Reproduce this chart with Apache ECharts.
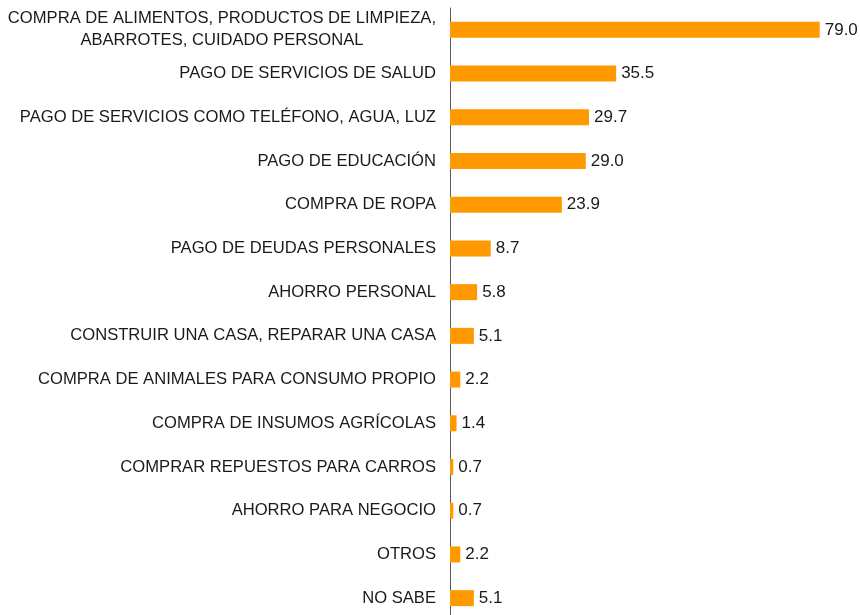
<!DOCTYPE html>
<html>
<head>
<meta charset="utf-8">
<script src="https://cdn.jsdelivr.net/npm/echarts@6/dist/echarts.min.js"></script>
<style>
    html, body { margin: 0; padding: 0; background: #fff; }
    #chart { width: 860px; height: 615px; }
</style>
</head>
<body>
<div id="chart"></div>
<script>
// categorías de uso del dinero (de arriba hacia abajo)
let categories = [
    'COMPRA DE ALIMENTOS, PRODUCTOS DE LIMPIEZA,\nABARROTES, CUIDADO PERSONAL',
    'PAGO DE SERVICIOS DE SALUD',
    'PAGO DE SERVICIOS COMO TELÉFONO, AGUA, LUZ',
    'PAGO DE EDUCACIÓN',
    'COMPRA DE ROPA',
    'PAGO DE DEUDAS PERSONALES',
    'AHORRO PERSONAL',
    'CONSTRUIR UNA CASA, REPARAR UNA CASA',
    'COMPRA DE ANIMALES PARA CONSUMO PROPIO',
    'COMPRA DE INSUMOS AGRÍCOLAS',
    'COMPRAR REPUESTOS PARA CARROS',
    'AHORRO PARA NEGOCIO',
    'OTROS',
    'NO SABE'
];
let values = [79.0, 35.5, 29.7, 29.0, 23.9, 8.7, 5.8, 5.1, 2.2, 1.4, 0.7, 0.7, 2.2, 5.1];

let barColor = '#FF9900';
let axisLineColor = '#595959';
let fontFamily = 'Arial, "Liberation Sans", sans-serif';

let myChart = echarts.init(document.getElementById('chart'));

let option = {
    animation: false,
    grid: {
        left: 450,
        top: 8,
        width: 468,
        height: 612,
        outerBoundsMode: 'none' // no encoger la rejilla por las etiquetas
    },
    xAxis: {
        type: 'value',
        min: 0,
        max: 100,
        show: false
    },
    yAxis: {
        type: 'category',
        inverse: true,
        data: categories,
        axisTick: { show: false },
        axisLine: {
            lineStyle: { color: axisLineColor, width: 1 }
        },
        axisLabel: {
            margin: 14,
            color: '#1a1a1a',
            fontSize: 16.6,
            fontFamily: fontFamily,
            align: 'right',
            lineHeight: 22,
            // etiquetas de dos líneas centradas entre sí
            formatter: (value) => {
                if (value.indexOf('\n') < 0) {
                    return value;
                }
                return value.split('\n').map((line) => '{c|' + line + '}').join('\n');
            },
            rich: {
                c: {
                    align: 'center',
                    fontSize: 16.6,
                    lineHeight: 22,
                    color: '#1a1a1a',
                    fontFamily: fontFamily
                }
            }
        }
    },
    series: [
        {
            type: 'bar',
            data: values,
            barWidth: 16,
            itemStyle: { color: barColor },
            label: {
                show: true,
                position: 'right',
                distance: 5,
                color: '#1a1a1a',
                fontSize: 17,
                fontFamily: fontFamily,
                formatter: (p) => p.value.toFixed(1)
            }
        }
    ]
};

myChart.setOption(option);
</script>
</body>
</html>
